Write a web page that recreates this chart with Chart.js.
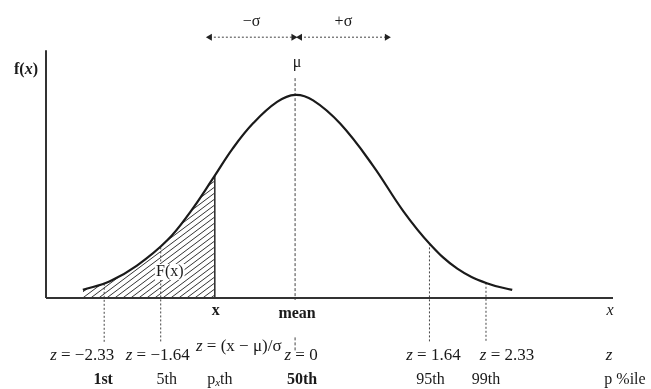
<!DOCTYPE html>
<html>
<head>
<meta charset="utf-8">
<script src="https://cdn.jsdelivr.net/npm/chart.js@4.4.1/dist/chart.umd.min.js"></script>
<style>
  body { margin: 0; background: #fff; }
  #wrap { width: 651px; height: 389px; }
</style>
</head>
<body>
<div id="wrap"><canvas id="normalChart" width="651" height="389"></canvas></div>
<script>
// Curve (x in z units, y = f(x))
const curveZ = [-2.59, -2.26, -1.93, -1.56, -1.28, -1.0, -0.76, -0.51, -0.22, 0, 0.22, 0.55, 0.95, 1.32, 1.65, 1.98, 2.34, 2.65];
const curveF = [0.016, 0.033, 0.064, 0.114, 0.170, 0.237, 0.296, 0.346, 0.388, 0.402, 0.391, 0.345, 0.262, 0.172, 0.106, 0.058, 0.029, 0.016];

// Shaded area F(x) goes up to x
const cutZ = -0.98;
const cutTopF = 0.242;

// Percentile markers
const pctZ = [-2.33, -1.64, 1.64, 2.33];
const pctTopF = [0.028, 0.1, 0.108, 0.03];
const zTicks = ["\u22122.33", "\u22121.64", "0", "1.64", "2.33"];
const pctTicks = ["1st", "5th", "50th", "95th", "99th"];
const meanTopF = 0.435;

// -sigma / +sigma arrows
const sigmaArrows = [[-1.04, -0.02], [0.06, 1.12]];
const sigmaLabels = ["\u2212\u03c3", "+\u03c3"];
const arrowF = 0.516;

// Axis extents
const xMin = -3.04, xMax = 3.88;
const yAxisTop = 0.49;
const belowAxisF = -0.087;

const SERIF = '"Liberation Serif", "DejaVu Serif", serif';
const reg = "16px " + SERIF;
const ital = "italic 16px " + SERIF;
const bold = "bold 16px " + SERIF;
const zReg = "17px " + SERIF;
const zItal = "italic 17px " + SERIF;

// Hatch pattern for F(x)
function makeHatch() {
    const c = document.createElement("canvas");
    c.width = 8; c.height = 6;
    const g = c.getContext("2d");
    g.strokeStyle = "#333";
    g.lineWidth = 1;
    for (let off = -8; off <= 8; off += 8) {
        g.beginPath();
        g.moveTo(off - 1, 6.75);
        g.lineTo(off + 9, -0.75);
        g.stroke();
    }
    return g.createPattern(c, "repeat");
}

const pts = curveZ.map((z, i) => ({ x: z, y: curveF[i] }));
const shadePts = pts.filter(p => p.x < cutZ);
shadePts.push({ x: cutZ, y: cutTopF });

const lineDs = (data, opts) => Object.assign({
    data: data,
    borderColor: "#333",
    borderWidth: 1,
    pointRadius: 0,
    fill: false,
    clip: false
}, opts);

const datasets = [
    lineDs(pts, { label: "f(x)", borderColor: "#1a1a1a", borderWidth: 2.2, tension: 0.4 }),
    lineDs([{ x: cutZ, y: 0 }, { x: cutZ, y: cutTopF }], { borderWidth: 1.6 }),
    lineDs([{ x: xMin, y: 0 }, { x: xMax, y: 0 }], { borderWidth: 2 }),
    lineDs([{ x: xMin, y: 0 }, { x: xMin, y: yAxisTop }], { borderWidth: 2 }),
    lineDs([{ x: 0, y: meanTopF }, { x: 0, y: -0.004 }, { x: 0, y: null }, { x: 0, y: -0.078 }, { x: 0, y: -0.104 }],
        { borderDash: [3, 2], borderColor: "#444" })
];
pctZ.forEach((z, i) => {
    datasets.push(lineDs([{ x: z, y: pctTopF[i] }, { x: z, y: belowAxisF }], { borderDash: [2, 2], borderColor: "#444" }));
});
sigmaArrows.forEach(a => {
    datasets.push(lineDs([{ x: a[0], y: arrowF }, { x: a[1], y: arrowF }], {
        borderDash: [2, 2],
        borderColor: "#444",
        pointStyle: "triangle",
        pointRadius: 4,
        pointRotation: [-90, 90],
        pointBackgroundColor: "#222",
        pointBorderColor: "#222",
        pointBorderWidth: 0
    }));
});
// shaded area last so it sits under everything
datasets.push(lineDs(shadePts, { borderWidth: 0, tension: 0.4, fill: "origin", backgroundColor: makeHatch() }));

// draw text with mixed fonts
function richText(ctx, parts, x, y, align, bg) {
    let w = 0;
    parts.forEach(p => { ctx.font = p[1]; w += ctx.measureText(p[0]).width; });
    let cx = align === "center" ? x - w / 2 : (align === "right" ? x - w : x);
    if (bg) {
        const keep = ctx.fillStyle;
        ctx.fillStyle = bg;
        ctx.fillRect(cx - 1, y - 8, w + 2, 16);
        ctx.fillStyle = keep;
    }
    parts.forEach(p => {
        ctx.font = p[1];
        ctx.fillText(p[0], cx, y + (p[2] || 0));
        cx += ctx.measureText(p[0]).width;
    });
}

const labelsPlugin = {
    id: "labels",
    afterDraw(chart) {
        const ctx = chart.ctx;
        const xs = chart.scales.x, ys = chart.scales.y;
        const px = v => xs.getPixelForValue(v);
        const y0 = ys.getPixelForValue(0);
        ctx.save();
        ctx.fillStyle = "#1a1a1a";
        ctx.textAlign = "left";
        ctx.textBaseline = "middle";

        richText(ctx, [["f(", bold], ["x", "bold italic 16px " + SERIF], [")", bold]], 26, 70, "center");
        richText(ctx, [["\u03bc", reg]], px(0) + 2, 63, "center");
        sigmaArrows.forEach((a, i) => {
            richText(ctx, [[sigmaLabels[i], reg]], px((a[0] + a[1]) / 2), ys.getPixelForValue(arrowF) - 15, "center");
        });
        richText(ctx, [["F(x)", reg]], px(cutZ) - 45, y0 - 26, "center", "#fff");

        // under the axis
        richText(ctx, [["x", bold]], px(cutZ) + 1, y0 + 13, "center");
        richText(ctx, [["mean", bold]], px(0) + 2, y0 + 16, "center");
        richText(ctx, [["x", ital]], px(xMax) - 3, y0 + 13, "center");
        richText(ctx, [["z", zItal], [" = (x \u2212 \u03bc)/\u03c3", zReg]], px(cutZ) + 24, y0 + 49, "center");

        // z row and percentile row
        const markZ = [pctZ[0], pctZ[1], 0, pctZ[2], pctZ[3]];
        const zOff = [-22, -3, 6, 4, 21];
        const pOff = [-1, 6, 7, 1, 0];
        const pBold = [true, false, true, false, false];
        markZ.forEach((z, i) => {
            richText(ctx, [["z", zItal], [" = " + zTicks[i], zReg]], px(z) + zOff[i], y0 + 58, "center");
            richText(ctx, [[pctTicks[i], pBold[i] ? bold : reg]], px(z) + pOff[i], y0 + 82, "center");
        });
        richText(ctx, [["p", reg], ["x", "italic 11px " + SERIF, 3], ["th", reg]], px(cutZ) + 5, y0 + 82, "center");
        richText(ctx, [["z", zItal]], px(xMax) - 4, y0 + 58, "center");
        richText(ctx, [["p %ile", reg]], px(xMax) + 12, y0 + 82, "center");
        ctx.restore();
    }
};

const normalChart = new Chart(document.getElementById("normalChart"), {
    type: "line",
    data: { datasets: datasets },
    options: {
        responsive: false,
        animation: false,
        layout: { padding: { left: 46, right: 38, top: 20, bottom: 40.5 } },
        scales: {
            x: { type: "linear", min: xMin, max: xMax, display: false },
            y: { type: "linear", min: -0.1, max: 0.55, display: false }
        },
        plugins: {
            legend: { display: false },
            tooltip: { enabled: false }
        }
    },
    plugins: [labelsPlugin]
});
</script>
</body>
</html>
